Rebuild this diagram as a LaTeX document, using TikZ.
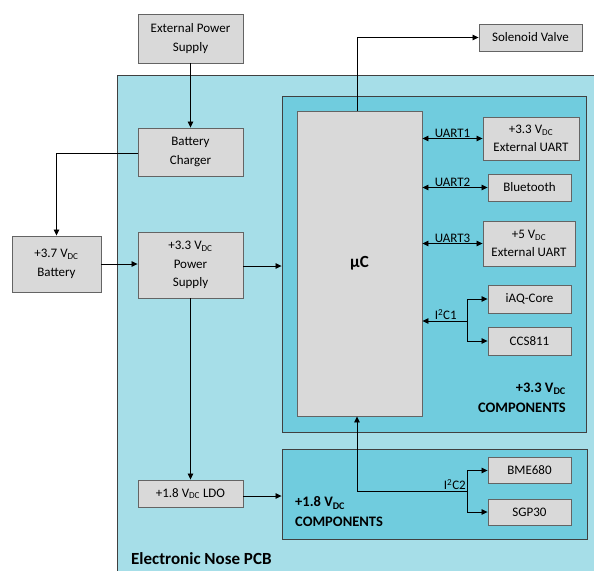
\documentclass[tikz,border=0pt]{standalone}
\usepackage{fontspec}
\setmainfont{Carlito}
\usetikzlibrary{arrows.meta}

\definecolor{pcbblue}{RGB}{166,222,232}
\definecolor{compblue}{RGB}{112,204,222}
\definecolor{boxgray}{RGB}{217,217,217}
\definecolor{edgegray}{RGB}{100,100,100}

\tikzset{
    block/.style={draw=edgegray, fill=boxgray, line width=0.9pt, align=center,
        inner sep=0pt, font=\fontsize{13}{18.5}\selectfont},
    area/.style={draw=black!75, line width=0.9pt},
    link/.style={line width=0.8pt, -{Triangle[length=6pt,width=5.5pt]}},
    bus/.style={line width=0.8pt, {Triangle[length=6pt,width=5.5pt]}-{Triangle[length=6pt,width=5.5pt]}},
    buslabel/.style={font=\fontsize{13}{15}\selectfont, inner sep=1pt},
    arealabel/.style={font=\fontsize{14.5}{20}\bfseries, inner sep=0pt}
}

\newcommand{\vdc}{V\textsubscript{DC}}

\begin{document}
\begin{tikzpicture}[x=1pt, y=-1pt]
    \useasboundingbox (0,0) rectangle (594,570);

    % Boards and component areas
    \node[area, fill=pcbblue, minimum width=478pt, minimum height=497pt, inner sep=0pt] (pcb) at (356,323.5) {};
    \node[area, fill=compblue, minimum width=304pt, minimum height=336pt, inner sep=0pt] (comp33) at (434,264) {};
    \node[area, fill=compblue, minimum width=305pt, minimum height=90pt, inner sep=0pt] (comp18) at (434.5,494) {};

    % Power path
    \node[block, minimum width=105pt, minimum height=49pt] (extpower) at (190.5,38.5) {External Power\\Supply};
    \node[block, minimum width=105pt, minimum height=48pt] (charger) at (190.5,152) {Battery\\Charger};
    \node[block, minimum width=89pt, minimum height=56pt] (battery) at (56.5,264) {+3.7 \vdc\\Battery};
    \node[block, minimum width=105pt, minimum height=66pt] (supply) at (190.5,265) {+3.3 \vdc\\Power\\Supply};
    \node[block, minimum width=105pt, minimum height=27pt] (ldo) at (190.5,493.5) {+1.8 \vdc{} LDO};

    % Microcontroller and peripherals
    \node[block, minimum width=125pt, minimum height=305pt, font=\fontsize{17}{20}\bfseries] (uc) at (359.5,263.5) {µC};
    \node[block, minimum width=103pt, minimum height=27pt] (valve) at (530.5,37.5) {Solenoid Valve};
    \node[block, minimum width=96pt, minimum height=43pt] (uart1) at (531,138.5) {+3.3 \vdc\\External UART};
    \node[block, minimum width=83pt, minimum height=27pt] (bt) at (529.5,187.5) {Bluetooth};
    \node[block, minimum width=92pt, minimum height=45pt] (uart3) at (529,243.5) {+5 \vdc\\External UART};
    \node[block, minimum width=83pt, minimum height=28pt] (iaq) at (529.5,299) {iAQ-Core};
    \node[block, minimum width=83pt, minimum height=28pt] (ccs) at (529.5,341) {CCS811};
    \node[block, minimum width=83pt, minimum height=26pt] (bme) at (529.5,470.5) {BME680};
    \node[block, minimum width=83pt, minimum height=26pt] (sgp) at (529.5,512) {SGP30};

    % Area labels
    \node[arealabel, align=right, anchor=east] (lbl33) at (566,398) {+3.3 \vdc\\COMPONENTS};
    \node[arealabel, align=left, anchor=west] (lbl18) at (295,512) {+1.8 \vdc\\COMPONENTS};
    \node[arealabel, font=\fontsize{17}{20}\bfseries, anchor=west] (pcblbl) at (131,559) {Electronic Nose PCB};

    % Power connections
    \draw[link] (extpower.south) -- (charger.north);
    \draw[link] ([yshift=-1.5pt]charger.west) -| (battery.north);
    \draw[link] (battery.east) -- (battery.east -| supply.west);
    \draw[link] ([yshift=-1pt]supply.east) -- ([yshift=-1pt]supply.east -| comp33.west);
    \draw[link] (supply.south) -- (ldo.north);
    \draw[link] ([yshift=-2.5pt]ldo.east) -- ([yshift=-2.5pt]ldo.east -| comp18.west);

    % Valve output
    \draw[link] ([xshift=-2.5pt]uc.north) |- (valve.west);

    % UART buses
    \draw[bus] (uc.east |- uart1.west) -- node[buslabel, above] {UART1} (uart1.west);
    \draw[bus] (uc.east |- bt.west) -- node[buslabel, above, xshift=-2.5pt] {UART2} (bt.west);
    \draw[bus] (uc.east |- uart3.west) -- node[buslabel, above] {UART3} (uart3.west);

    % I2C buses
    \coordinate (i2c1) at (467,321);
    \draw[link] (i2c1) -- node[buslabel, above, xshift=1pt] {I\textsuperscript{2}C1} (uc.east |- i2c1);
    \draw[link] (i2c1) |- (iaq.west);
    \draw[link] (i2c1) |- (ccs.west);

    \coordinate (i2c2) at (467,491);
    \node[buslabel, anchor=south east] (i2c2lbl) at (i2c2) {I\textsuperscript{2}C2};
    \draw[link] (i2c2) -| ([xshift=-2.5pt]uc.south);
    \draw[link] (i2c2) |- (bme.west);
    \draw[link] (i2c2) |- (sgp.west);
\end{tikzpicture}
\end{document}
